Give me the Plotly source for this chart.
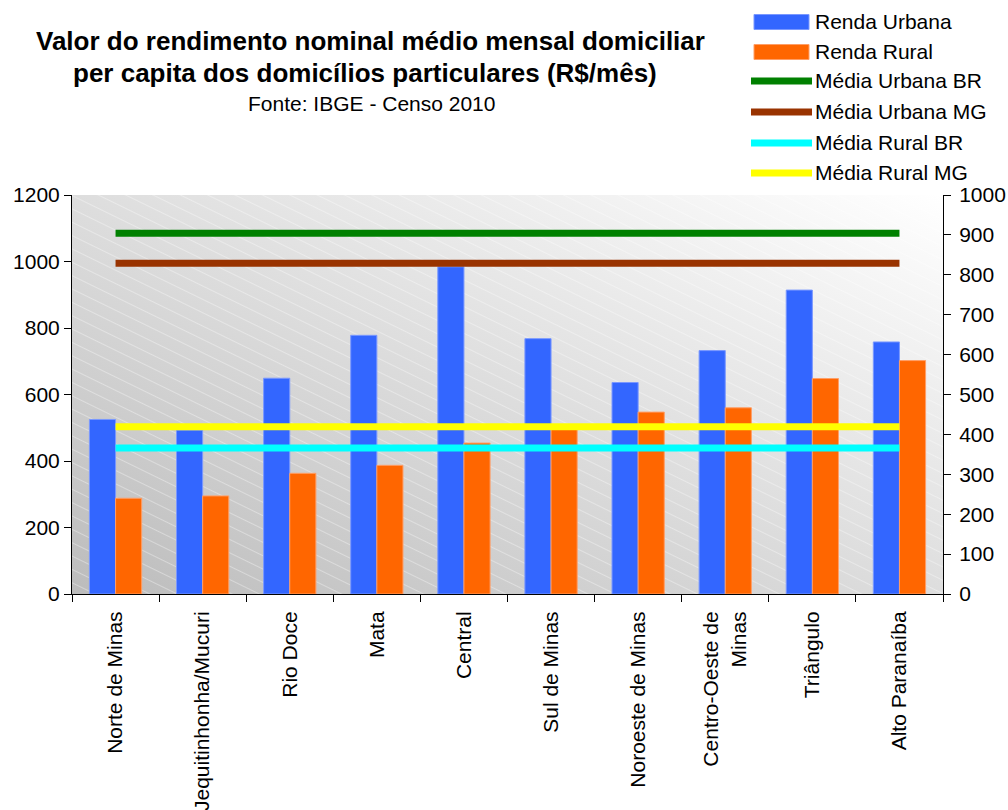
import base64
import plotly.graph_objects as go

# ---- data -------------------------------------------------------------
regions = [
    "Norte de Minas",
    "Jequitinhonha/Mucuri",
    "Rio Doce",
    "Mata",
    "Central",
    "Sul de Minas",
    "Noroeste de Minas",
    "Centro-Oeste de<br>Minas",
    "Triângulo",
    "Alto Paranaíba",
]
renda_urbana = [525, 493, 649, 778, 984, 768, 636, 732, 914, 758]
renda_rural = [288, 295, 363, 387, 454, 500, 547, 560, 648, 702]

media_names = ["Média Urbana BR", "Média Urbana MG", "Média Rural BR", "Média Rural MG"]
media_values = [904, 829, 366, 419]
media_colors = ["#008000", "#993300", "#00FFFF", "#FFFF00"]

bar_names = ["Renda Urbana", "Renda Rural"]
bar_colors = ["#3366FF", "#FF6600"]
bar_edges = ["#7A98FF", "#FF9E66"]

# ---- geometry ---------------------------------------------------------
W, H = 1008, 810
ML, MR, MT, MB = 72, 65, 195, 216
PW, PH = W - ML - MR, H - MT - MB


def px(x):
    return (x - ML) / PW


def py(y):
    return (H - MB - y) / PH


FONT = "Arial, Liberation Sans, sans-serif"

fig = go.Figure()

for name, vals, col, edge in zip(bar_names, [renda_urbana, renda_rural], bar_colors, bar_edges):
    fig.add_bar(
        x=regions, y=vals, name=name,
        marker=dict(color=col, line=dict(color=edge, width=1)),
    )

for name, val, col in zip(media_names, media_values, media_colors):
    fig.add_scatter(
        x=regions, y=[val] * len(regions), name=name, mode="lines",
        line=dict(color=col, width=7), yaxis="y2",
    )

# ---- plot-area background: diagonal grey gradient with faint hatching --
svg = f"""<svg xmlns="http://www.w3.org/2000/svg" width="{PW}" height="{PH}" viewBox="0 0 {PW} {PH}" preserveAspectRatio="none">
<defs>
<linearGradient id="g" x1="0" y1="1" x2="1" y2="0">
<stop offset="0" stop-color="#BCBCBC"/><stop offset="1" stop-color="#FFFFFF"/>
</linearGradient>
<pattern id="p" width="40" height="12" patternUnits="userSpaceOnUse" patternTransform="rotate(26)">
<line x1="0" y1="0.5" x2="40" y2="0.5" stroke="#FFFFFF" stroke-opacity="0.35" stroke-width="1"/>
</pattern>
</defs>
<rect width="{PW}" height="{PH}" fill="url(#g)"/>
<rect width="{PW}" height="{PH}" fill="url(#p)"/>
</svg>"""
bg_src = "data:image/svg+xml;base64," + base64.b64encode(svg.encode()).decode()

# ---- legend (drawn by hand to get the wide swatches) ------------------
shapes = []
annotations = []
legend_y = [22, 52, 81, 112, 143, 173]
legend_entries = list(zip(bar_names, bar_colors, bar_edges, ["bar"] * 2)) + \
    list(zip(media_names, media_colors, media_colors, ["line"] * 4))
for (name, col, edge, kind), ly in zip(legend_entries, legend_y):
    if kind == "bar":
        shapes.append(dict(type="rect", xref="paper", yref="paper",
                           x0=px(754), x1=px(809), y0=py(ly + 7.5), y1=py(ly - 7.5),
                           fillcolor=col, line=dict(color=edge, width=1)))
    else:
        shapes.append(dict(type="rect", xref="paper", yref="paper",
                           x0=px(751), x1=px(812), y0=py(ly + 3.5), y1=py(ly - 3.5),
                           fillcolor=col, line=dict(width=0)))
    annotations.append(dict(text=name, xref="paper", yref="paper", x=px(813), y=py(ly - 0.5),
                            xanchor="left", yanchor="middle", showarrow=False,
                            font=dict(family=FONT, size=21, color="black")))

# ---- titles -----------------------------------------------------------
annotations += [
    dict(text="<b>Valor do rendimento nominal médio mensal domiciliar</b>", xref="paper", yref="paper",
         x=px(370), y=py(41), xanchor="center", yanchor="middle", showarrow=False,
         font=dict(family=FONT, size=26, color="black")),
    dict(text="<b>per capita dos domicílios particulares (R$/mês)</b>", xref="paper", yref="paper",
         x=px(365), y=py(73), xanchor="center", yanchor="middle", showarrow=False,
         font=dict(family=FONT, size=26, color="black")),
    dict(text="Fonte: IBGE - Censo 2010", xref="paper", yref="paper",
         x=px(371), y=py(103), xanchor="center", yanchor="middle", showarrow=False,
         font=dict(family=FONT, size=21, color="black")),
]

axis_common = dict(showline=True, linecolor="black", linewidth=1, ticks="outside", ticklen=7,
                   tickcolor="black", showgrid=False, zeroline=False, automargin=False,
                   tickfont=dict(family=FONT, size=21, color="black"))

fig.update_layout(
    width=W, height=H,
    margin=dict(l=ML, r=MR, t=MT, b=MB, pad=0),
    paper_bgcolor="white", plot_bgcolor="rgba(0,0,0,0)",
    showlegend=False,
    barmode="group", bargap=0.4, bargroupgap=0,
    xaxis=dict(type="category", tickson="boundaries", tickangle=-90, ticklabelstandoff=8,
               **axis_common),
    yaxis=dict(range=[0, 1200], dtick=200, **axis_common),
    yaxis2=dict(range=[0, 1000], dtick=100, overlaying="y", side="right",
                ticklabelstandoff=4, **axis_common),
    images=[dict(source=bg_src, xref="paper", yref="paper", x=0, y=1, sizex=1, sizey=1,
                 sizing="stretch", xanchor="left", yanchor="top", layer="below")],
    shapes=shapes,
    annotations=annotations,
)

fig.write_html("out.html")
